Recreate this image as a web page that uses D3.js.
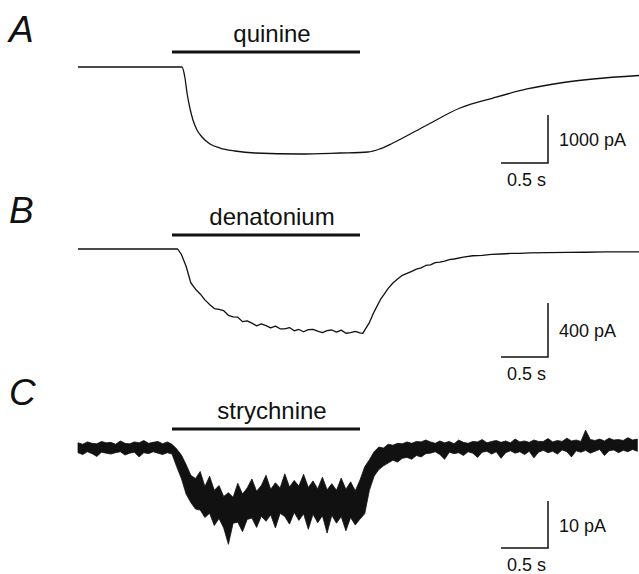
<!DOCTYPE html>
<html lang="en">
<head>
    <meta charset="UTF-8">
    <title>Bitter compound currents</title>
    <script src="https://cdn.jsdelivr.net/npm/d3@7"></script>
    <style>
        body {margin: 0; background: #fff;}
        svg text {font-family: "Liberation Sans", Arial, Helvetica, sans-serif; fill: #111;}
    </style>
</head>
<body>
<div id="graf"></div>
<script>
    // panel A - quinine (time in s, current in pA)
    let aTime = [0, 1.106, 1.138, 1.16, 1.19, 1.223, 1.266, 1.319, 1.404, 1.511, 1.67, 1.883, 2.362, 2.787,
        3.085, 3.21, 3.351, 3.713, 4.064, 4.415, 4.777, 5.128, 5.479, 5.968];
    let aCurrent = [0, 0, -229, -542, -854, -1104, -1313, -1458, -1604, -1688, -1750, -1792, -1813, -1792,
        -1771, -1708, -1583, -1208, -854, -646, -458, -333, -250, -177];

    // panel B - denatonium
    let bTime = [0, 0.5, 1.0, 1.06, 1.10, 1.15, 1.20, 1.25, 1.30, 1.35, 1.40, 1.45, 1.50, 1.55, 1.60, 1.65,
        1.70, 1.75, 1.80, 1.85, 1.90, 1.95, 2.00, 2.05, 2.10, 2.15, 2.20, 2.25, 2.30, 2.35, 2.40, 2.45, 2.50,
        2.55, 2.60, 2.65, 2.70, 2.75, 2.80, 2.85, 2.90, 2.95, 3.00, 3.03, 3.06, 3.10, 3.14, 3.18, 3.22, 3.26,
        3.30, 3.35, 3.40, 3.45, 3.50, 3.55, 3.60, 3.65, 3.70, 3.75, 3.80, 3.85, 3.90, 3.95, 4.00, 4.10, 4.20,
        4.30, 4.40, 4.50, 4.60, 4.70, 4.80, 5.00, 5.20, 5.40, 5.60, 5.80, 5.97];
    let bCurrent = [0, 0, 0, 0, -40, -128, -250, -298, -333, -377, -411, -441, -448, -457, -491, -503,
        -505, -538, -532, -549, -569, -555, -567, -584, -571, -591, -591, -582, -606, -596, -613, -597, -595,
        -609, -619, -605, -600, -616, -601, -624, -619, -611, -622, -625, -590, -545, -480, -425, -372, -332,
        -292, -252, -222, -195, -180, -166, -149, -140, -122, -118, -101, -97, -90, -78, -74, -60, -50,
        -47, -40, -37, -33, -32, -28, -27, -25, -24, -22, -22, -21];

    // panel C - strychnine, noisy trace read as upper / lower envelope every 0.05 s
    let cStep = 0.05;
    let cUpper = [1.1, 0.8, 1.3, 1.0, 0.9, 1.4, 1.1, 1.2, 0.8, 1.5, 1.0, 0.9, 1.3, 1.1, 1.6, 1.0, 1.2, 1.4, 0.9, 1.3, 0.8,
        -0.2, -1.5, -3.5, -5.8, -6.5, -5.0, -8.2, -6.0, -9.0, -8.0, -10.3, -9.5, -10.5, -7.5, -9.8, -8.5, -6.6, -9.2, -8.0, -5.8,
        -8.8, -7.4, -8.5, -5.5, -8.3, -6.9, -8.1, -5.6, -8.4, -7.0, -8.7, -6.2, -8.9, -7.6, -9.0, -6.4, -8.8, -7.2, -9.1, -6.8,
        -4.0, -2.5, -0.8, 0.2, 0.0, 0.8, 0.6, 1.0, 0.9, 1.3, 1.0, 1.4, 1.3, 1.7,
        1.3, 1.0, 1.5, 1.1, 1.4, 0.9, 1.7, 1.2, 1.0, 1.4, 1.3, 1.8, 1.1, 1.4, 1.6, 1.2, 1.5, 1.1, 1.9, 1.3, 1.5, 1.2,
        1.7, 1.4, 1.4, 2.0, 1.3, 1.6, 1.4, 2.1, 1.5, 1.7, 1.4, 3.8, 1.8, 1.6, 1.9, 1.5, 2.1, 1.7, 1.8, 1.6, 2.2, 1.7, 1.9];
    let cLower = [-1.0, -1.4, -0.8, -1.2, -1.8, -0.9, -1.1, -1.3, -1.0, -0.8, -1.5, -1.1, -0.9, -1.9, -1.0, -1.2, -0.8, -1.1, -1.4, -1.0, -1.3,
        -4.0, -6.5, -9.8, -11.6, -13.0, -13.2, -14.8, -13.9, -16.5, -15.0, -17.0, -20.5, -16.0, -15.8, -17.8, -15.2, -14.9, -16.9, -14.5, -15.6,
        -14.2, -17.0, -13.9, -14.6, -16.2, -13.7, -15.4, -14.0, -17.3, -14.1, -15.9, -14.4, -18.1, -14.3, -16.0, -14.6, -17.6, -14.8, -16.4, -15.1,
        -14.0, -9.0, -6.0, -4.6, -3.8, -3.2, -2.6, -3.0, -2.2, -2.0, -2.4, -1.6, -1.9, -1.2,
        -1.1, -0.8, -1.4, -2.4, -0.9, -1.2, -1.0, -1.6, -0.8, -1.1, -2.0, -0.9, -0.7, -1.3, -0.8, -2.2, -1.0, -0.6, -1.1, -0.8, -1.4, -0.7,
        -2.1, -0.9, -0.5, -1.0, -0.7, -1.3, -0.4, -0.8, -1.9, -0.6, -0.9, -0.5, -1.1, -0.7, -0.3, -1.6, -0.6, -0.4, -1.0, -0.5, -0.8, -0.3, -0.7];

    let panelLetters = ["A", "B", "C"];
    let drugNames = ["quinine", "denatonium", "strychnine"];
    let drugPeriod = [1.0, 3.0];          // s
    let scaleTime = [4.5, 5.0];           // s, 0.5 s bar
    let scaleTimeLabel = "0.5 s";
    let scaleCurrent = [1000, 400, 10];   // pA
    let scaleCurrentLabels = ["1000 pA", "400 pA", "10 pA"];

    // layout per panel (pixels)
    let layout = [
        {base: 67,  barPx: 48, letterY: 42,  drugY: 52,  scaleTop: -1000},
        {base: 249, barPx: 54, letterY: 223, drugY: 235, scaleTop: -400},
        {base: 448, barPx: 47, letterY: 405, drugY: 429, scaleTop: -11.3}
    ];

    let width = 639, height = 574;

    let svg = d3.select("#graf")
        .append("svg")
        .attr("width", width)
        .attr("height", height);

    let x = d3.scaleLinear().domain([0, 6]).range([78, 642]);

    let yScales = layout.map(function(p, i) {
        return d3.scaleLinear().domain([0, -scaleCurrent[i]]).range([p.base, p.base + p.barPx]);
    });

    layout.forEach(function(p, i) {
        let y = yScales[i];
        let g = svg.append("g");

        g.append("text")
            .attr("x", 9)
            .attr("y", p.letterY)
            .attr("font-size", 37)
            .attr("font-style", "italic")
            .text(panelLetters[i]);

        // application bar
        g.append("line")
            .attr("x1", x(drugPeriod[0])).attr("x2", x(drugPeriod[1]))
            .attr("y1", p.drugY).attr("y2", p.drugY)
            .attr("stroke", "#111")
            .attr("stroke-width", 3);
        g.append("text")
            .attr("x", x((drugPeriod[0] + drugPeriod[1]) / 2) + 6)
            .attr("y", p.drugY - 10)
            .attr("text-anchor", "middle")
            .attr("font-size", 24)
            .text(drugNames[i]);

        // scale bars
        let yTop = y(p.scaleTop), yBot = y(p.scaleTop - scaleCurrent[i]);
        g.append("path")
            .attr("d", "M" + x(scaleTime[0]) + "," + yBot + "H" + x(scaleTime[1]) + "V" + yTop)
            .attr("fill", "none")
            .attr("stroke", "#111")
            .attr("stroke-width", 1.5);
        g.append("text")
            .attr("x", x(scaleTime[1]) + 11)
            .attr("y", (yTop + yBot) / 2 + 7)
            .attr("font-size", 18)
            .text(scaleCurrentLabels[i]);
        g.append("text")
            .attr("x", x(scaleTime[0]) + 6)
            .attr("y", yBot + 23)
            .attr("font-size", 18)
            .text(scaleTimeLabel);
    });

    // traces A and B
    [[aTime, aCurrent, d3.curveMonotoneX], [bTime, bCurrent, d3.curveLinear]].forEach(function(tr, i) {
        let y = yScales[i];
        svg.append("path")
            .datum(d3.zip(tr[0], tr[1]))
            .attr("fill", "none")
            .attr("stroke", "#111")
            .attr("stroke-width", 1.3)
            .attr("stroke-linejoin", "round")
            .attr("d", d3.line()
                .x(function(d) { return x(d[0]); })
                .y(function(d) { return y(d[1]); })
                .curve(tr[2]));
    });

    // trace C as noise envelope
    let yC = yScales[2];
    svg.append("path")
        .datum(d3.zip(cUpper, cLower))
        .attr("fill", "#111")
        .attr("stroke", "#111")
        .attr("stroke-width", 0.8)
        .attr("d", d3.area()
            .x(function(d, i) { return x(i * cStep); })
            .y0(function(d) { return yC(d[1]); })
            .y1(function(d) { return yC(d[0]); }));
</script>
</body>
</html>
